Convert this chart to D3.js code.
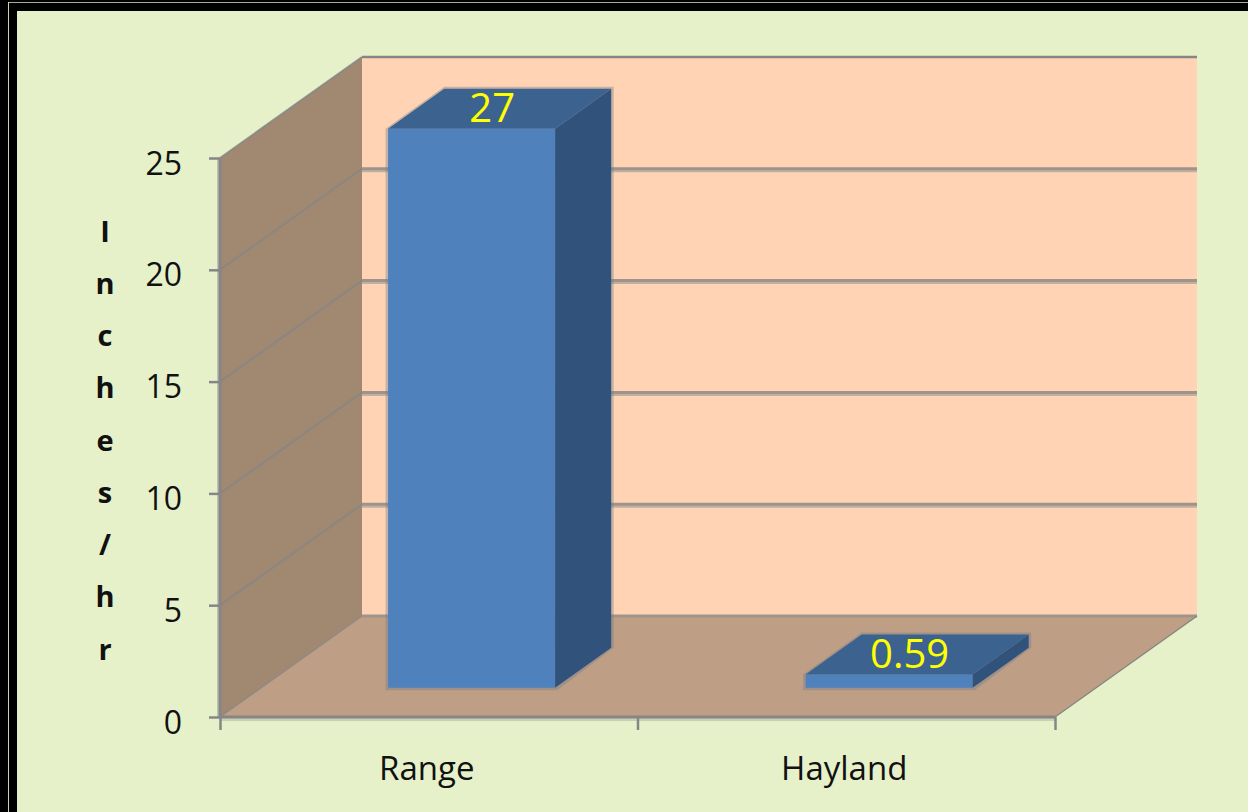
<!DOCTYPE html>
<html>
<head>
<meta charset="utf-8">
<style>
  html, body { margin: 0; padding: 0; background: #E6F1C9; overflow: hidden; }
  svg { display: block; }
  text { font-family: "Open Sans", sans-serif; }
</style>
<script src="https://cdn.jsdelivr.net/npm/d3@7"></script>
</head>
<body>
<svg id="chart" width="1248" height="812"></svg>
<script>
// Chart content
const categories = ["Range", "Hayland"];
const seriesValues = [27, 0.59];
const valueLabels = ["27", "0.59"];
const valueTicks = [0, 5, 10, 15, 20, 25];
const axisTitle = ["I", "n", "c", "h", "e", "s", "/", "h", "r"];

const colors = {
  page: "#E6F1C9", frame: "#000000", frameLine: "#C9D4B0",
  backWall: "#FFD3B3", sideWall: "#A18871", floor: "#BE9F86",
  axis: "#868686", grid: "#A0948A", barFront: "#4F81BD", barSide: "#31527A", barTop: "#3C6290",
  label: "#FFFF00", text: "#111111"
};

const svg = d3.select("#chart");

// Oblique projection: depth z runs 0..1 from the front plane to the back wall
const x = d3.scaleBand().domain(categories).range([220, 1055]);
const y = d3.scaleLinear().domain([0, 25]).range([717, 158]).clamp(true);
const depthX = d3.scaleLinear().domain([0, 1]).range([0, 142]);
const depthY = d3.scaleLinear().domain([0, 1]).range([0, 101]);
const project = (px, py, z) => [px + depthX(z), py - depthY(z)];
const line = d3.line();
const poly = pts => line(pts) + "Z";

const [x0, x1] = x.range();
const yBase = y(0), yTop = y(25);

// Page background and the double black frame on the top and left
svg.append("rect").attr("width", 1248).attr("height", 812).attr("fill", colors.page);
svg.append("rect").attr("x", 0).attr("y", 0).attr("width", 1248).attr("height", 11).attr("fill", colors.frame);
svg.append("rect").attr("x", 0).attr("y", 0).attr("width", 17).attr("height", 812).attr("fill", colors.frame);
svg.append("rect").attr("x", 8).attr("y", 2).attr("width", 1240).attr("height", 1).attr("fill", "#A9AE9A");
svg.append("rect").attr("x", 8).attr("y", 2).attr("width", 1).attr("height", 810).attr("fill", colors.frameLine);

// Chart walls
const walls = svg.append("g");
walls.append("path").attr("fill", colors.backWall)
  .attr("d", poly([project(x0, yTop, 1), project(x1, yTop, 1), project(x1, yBase, 1), project(x0, yBase, 1)]));
walls.append("path").attr("fill", colors.sideWall)
  .attr("d", poly([project(x0, yTop, 0), project(x0, yTop, 1), project(x0, yBase, 1), project(x0, yBase, 0)]));
walls.append("path").attr("fill", colors.floor)
  .attr("d", poly([project(x0, yBase, 0), project(x0, yBase, 1), project(x1, yBase, 1), project(x1, yBase, 0)]));

// Gridlines: diagonal across the side wall, then level across the back wall
const grid = svg.append("g").attr("fill", "none").attr("stroke-linejoin", "round");
valueTicks.forEach(t => {
  const a = project(x0, y(t), 0), b = project(x0, y(t), 1), c = project(x1, y(t), 1);
  const isTop = t === 25;
  if (!isTop && t !== 0) {
    grid.append("path").attr("d", line([b, c]))
      .attr("transform", "translate(0,2)")
      .attr("stroke", "#BFB0A2").attr("stroke-width", 3);
  }
  grid.append("path").attr("d", line([a, b]))
    .attr("stroke", colors.axis).attr("stroke-width", t === 0 ? 1.5 : 2).attr("stroke-opacity", 0.85);
  grid.append("path").attr("d", line([b, c]))
    .attr("stroke", isTop ? colors.axis : colors.grid).attr("stroke-width", isTop ? 2.5 : 3);
});
// Floor's far right edge
grid.append("path").attr("d", line([project(x1, yBase, 0), project(x1, yBase, 1)]))
  .attr("stroke", colors.axis).attr("stroke-width", 1.5);

// Soft edge beneath and beside the axis lines
svg.append("rect").attr("x", x0 - 3).attr("y", yTop).attr("width", 3).attr("height", yBase - yTop)
  .attr("fill", "#BFC4AE");
svg.append("rect").attr("x", x0).attr("y", yBase + 1).attr("width", x1 - x0).attr("height", 3)
  .attr("fill", "#C9D0B0");

// Axes
const yAxis = d3.axisLeft(y).tickValues(valueTicks).tickSize(11).tickPadding(27);
const yG = svg.append("g").attr("transform", `translate(${x0},0)`).call(yAxis);
const xAxis = d3.axisBottom(d3.scaleLinear().domain([0, categories.length]).range([x0, x1]))
  .ticks(categories.length).tickSize(13).tickFormat("");
const xG = svg.append("g").attr("transform", `translate(0,${yBase})`).call(xAxis);
[yG, xG].forEach(g => {
  g.selectAll("path.domain").attr("stroke", colors.axis).attr("stroke-width", 3);
  g.selectAll(".tick line").attr("stroke", colors.axis).attr("stroke-width", 2.5);
});
yG.selectAll(".tick text").attr("font-size", 32).attr("fill", colors.text)
  .attr("font-family", '"Open Sans", sans-serif').attr("dy", "0.5em");
yG.select("path.domain").attr("d", line([[0, yTop], [0, yBase]]));
xG.select("path.domain").attr("d", line([[x0, 0], [x1, 0]]));

// Category labels
svg.append("g").selectAll("text").data(categories).join("text")
  .attr("x", d => x(d) + x.bandwidth() / 2 - 2)
  .attr("y", 780)
  .attr("text-anchor", "middle").attr("font-size", 33).attr("fill", colors.text)
  .text(d => d);

// Stacked axis title
const titleY = d3.scaleLinear().domain([0, axisTitle.length - 1]).range([231.5, 649.5]);
svg.append("g").selectAll("text").data(axisTitle).join("text")
  .attr("x", 105).attr("y", (d, i) => titleY(i))
  .attr("dy", "0.35em")
  .attr("text-anchor", "middle").attr("font-size", 29).attr("font-weight", 700).attr("fill", colors.text)
  .text(d => d);

// Bars: front, side and top faces, each offset into the depth of the chart
const barInset = d3.scaleLinear().domain([0, 1]).range([0, x.bandwidth()]);
const zFront = 0.29, zBack = 0.685;
const barG = svg.append("g");
categories.forEach((cat, i) => {
  const left = x(cat) + barInset(0.304), right = x(cat) + barInset(0.704);
  const yv = y(seriesValues[i]);
  const fbl = project(left, yBase, zFront), fbr = project(right, yBase, zFront);
  const ftl = project(left, yv, zFront), ftr = project(right, yv, zFront);
  const btl = project(left, yv, zBack), btr = project(right, yv, zBack), bbr = project(right, yBase, zBack);

  // Soft shadow hugging the outline
  barG.append("path")
    .attr("d", poly([[fbl[0] - 2.5, fbl[1] + 0.5], [ftl[0] - 2.5, ftl[1]], [btl[0], btl[1] - 2], [btr[0] + 2.5, btr[1] - 2], [bbr[0] + 2.5, bbr[1]], [fbr[0] + 2, fbr[1] + 2.5], [fbl[0] - 2.5, fbl[1] + 2.5]]))
    .attr("fill", "#6B7A8C").attr("fill-opacity", 0.38);
  barG.append("path").attr("fill", colors.barFront).attr("d", poly([fbl, ftl, ftr, fbr]));
  barG.append("path").attr("fill", colors.barSide).attr("d", poly([fbr, ftr, btr, bbr]));
  barG.append("path").attr("fill", colors.barTop).attr("d", poly([ftl, btl, btr, ftr]));

  // Value label sits on the top face
  barG.append("text")
    .attr("x", (ftl[0] + btr[0]) / 2 - 7.5)
    .attr("y", (ftl[1] + btr[1]) / 2 + 13)
    .attr("text-anchor", "middle").attr("font-size", 40).attr("fill", colors.label)
    .text(valueLabels[i]);
});
</script>
</body>
</html>
